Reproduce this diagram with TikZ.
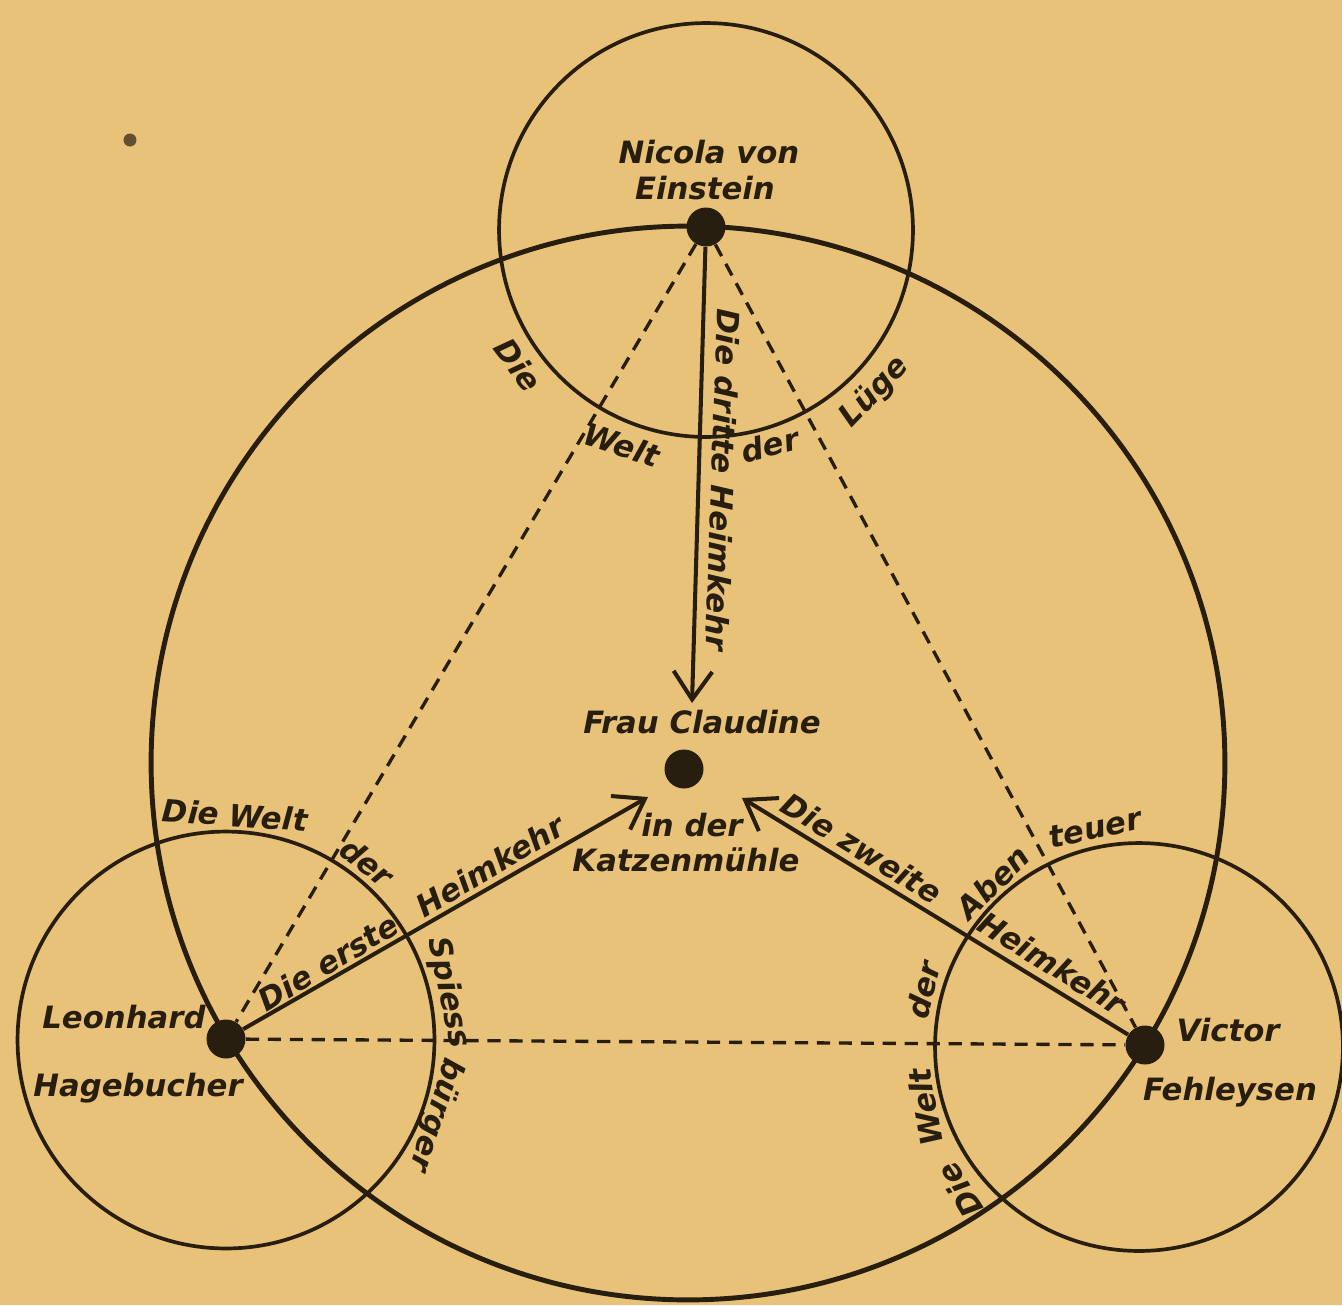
\documentclass[tikz,border=0pt]{standalone}
\usepackage{fontspec}
\setmainfont{DejaVu Sans}
\usetikzlibrary{arrows.meta,calc}
\definecolor{paper}{RGB}{233,194,122}
\definecolor{ink}{RGB}{40,30,16}
\begin{document}
\begin{tikzpicture}[x=0.02cm,y=-0.02cm,
  lbl/.style={font=\fontsize{17.5}{21}\selectfont\bfseries\itshape, text=ink, inner sep=0pt},
  dotn/.style={circle, fill=ink, minimum size=0.78cm, inner sep=0pt},
  ring/.style={draw=ink, line width=2.1pt},
  bigring/.style={draw=ink, line width=2.8pt},
  dashline/.style={draw=ink, line width=1.9pt, dash pattern=on 7.5pt off 5pt},
  arrline/.style={draw=ink, line width=2.3pt, -{Straight Barb[length=16pt,width=22pt]}}
]
\useasboundingbox (0,0) rectangle (1342,1305);
\fill[paper] (0,0) rectangle (1342,1305);
\fill[ink!70!paper] (130,140) circle[radius=0.13cm];

% circles
\draw[bigring] (688,763) circle[radius=10.74cm];
\draw[ring] (706,230) circle[radius=4.14cm];
\draw[ring] (226,1040) circle[radius=4.17cm];
\draw[ring] (1139,1047) circle[radius=4.08cm];

% dots
\node[dotn] (nic) at (706,227) {};
\node[dotn] (cla) at (684,769) {};
\node[dotn] (leo) at (226,1039) {};
\node[dotn] (vic) at (1145,1045) {};

% dashed triangle
\draw[dashline] (nic) -- (leo);
\draw[dashline] (nic) -- (vic);
\draw[dashline] (leo) -- (vic);

% arrows
\coordinate (tipN) at (692,703);
\coordinate (tipL) at (648,797);
\coordinate (tipV) at (742,798);
\draw[arrline] (nic) -- (tipN);
\draw[arrline] (leo) -- (tipL);
\draw[arrline] (vic) -- (tipV);

% person labels
\node[lbl] (n1) at (709,152) {Nicola von};
\node[lbl] (n2) at (705,188) {Einstein};
\node[lbl] (c1) at (702,722) {Frau Claudine};
\node[lbl] (c2) at (692,825) {in der};
\node[lbl] (c3) at (686,860) {Katzenmühle};
\node[lbl] (l1) at (124,1017) {Leonhard};
\node[lbl] (l2) at (138,1088) {Hagebucher};
\node[lbl] (v1) at (1228,1030) {Victor};
\node[lbl] (v2) at (1230,1092) {Fehleysen};

% Heimkehr labels
\node[lbl, rotate=-92] (h3) at (723,480) {Die dritte Heimkehr};
\node[lbl, rotate=31] (h1a) at (328,962) {Die erste};
\node[lbl, rotate=31] (h1b) at (490,866) {Heimkehr};
\node[lbl, rotate=-31.6] (h2a) at (862,848) {Die zweite};
\node[lbl, rotate=-31.6] (h2b) at (1052,963) {Heimkehr};

% Die Welt der Lüge
\node[lbl, rotate=-54] (wl1) at (518,365) {Die};
\node[lbl, rotate=-18] (wl2) at (622,445) {Welt};
\node[lbl, rotate=14] (wl3) at (770,445) {der};
\node[lbl, rotate=46] (wl4) at (875,392) {Lüge};

% Die Welt der Spiessbürger
\node[lbl, rotate=-4] (ws1) at (235,815) {Die Welt};
\node[lbl, rotate=-38] (ws2) at (367,862) {der};
\node[lbl, rotate=-78] (ws3) at (448,993) {Spiess};
\node[lbl, rotate=-108] (ws4) at (436,1115) {bürger};

% Die Welt der Abenteuer
\node[lbl, rotate=122] (wa1) at (960,1190) {Die};
\node[lbl, rotate=100] (wa2) at (925,1107) {Welt};
\node[lbl, rotate=76] (wa3) at (923,990) {der};
\node[lbl, rotate=45] (wa4) at (993,882) {Aben};
\node[lbl, rotate=12] (wa5) at (1095,828) {teuer};
\end{tikzpicture}
\end{document}
